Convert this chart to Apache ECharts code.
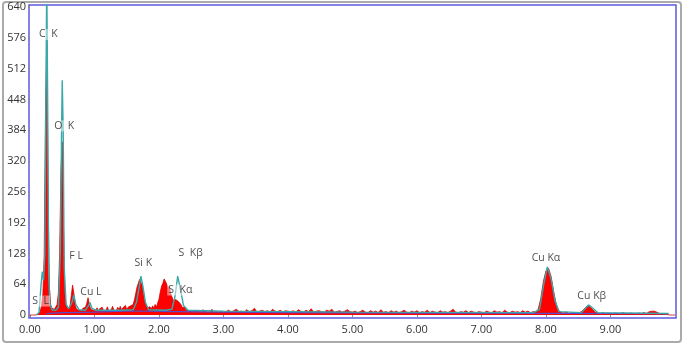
<!DOCTYPE html>
<html>
<head>
<meta charset="utf-8">
<script src="https://cdn.jsdelivr.net/npm/echarts@6/dist/echarts.min.js"></script>
<style>html,body{margin:0;padding:0;background:#fff}#c{width:685px;height:346px}</style>
</head>
<body>
<div id="c"></div>
<script>
// ---- data ----
var yTicks = [0, 64, 128, 192, 256, 320, 384, 448, 512, 576, 640];
var xTicks = [0, 1, 2, 3, 4, 5, 6, 7, 8, 9];
var xTickLabels = ['0.00','1.00','2.00','3.00','4.00','5.00','6.00','7.00','8.00','9.00'];

// measured spectrum (counts), channels of 0.02 keV from 0.00 to 3.00 keV
var lowStart = 0.0, lowStep = 0.02;
var spectrumLow = [
  0,0,0,0,0,0,1,3,8,20,
  45,120,420,565,260,60,22,14,10,12,
  16,22,45,130,300,360,180,45,20,14,
  12,18,40,62,45,22,12,15,10,13,
  9,14,11,16,24,36,22,12,15,10,
  12,9,15,8,13,10,16,9,12,10,
  17,9,13,11,18,10,14,9,16,11,
  18,10,15,12,20,11,16,13,19,15,
  22,32,45,58,66,74,70,62,45,30,
  20,15,11,17,12,19,14,22,16,25,
  33,48,60,66,75,70,64,55,60,45,
  38,30,26,32,35,28,30,22,16,12,
  16,10,13,9,12,8,11,7,10,8,
  12,7,9,6,11,8,7,10,6,9,
  7,12,6,8,7,10,6,8,7,9,
  6
];
// channels of 0.04 keV from 3.04 to 10.00 keV
var highStart = 3.04, highStep = 0.04;
var spectrumHigh = [
  7,10,6,9,12,7,8,6,11,7,9,14,6,8,10,7,9,6,12,8,7,10,6,9,8,
  7,9,6,11,8,6,10,7,13,6,8,9,7,6,10,8,12,6,7,9,6,8,11,7,6,
  8,5,7,10,6,5,9,6,8,5,11,6,7,5,9,6,8,5,7,10,6,5,8,6,9,
  5,7,6,10,5,8,6,5,9,6,7,5,8,12,6,5,7,6,9,5,8,6,5,7,6,
  5,8,6,5,9,6,7,5,10,6,5,8,6,7,5,9,6,8,5,7,6,12,35,70,92,
  97,80,48,22,9,5,4,6,3,5,4,3,5,8,14,19,17,12,6,4,3,5,3,4,3,
  3,4,2,3,5,2,3,4,2,3,4,3,5,3,7,8,8,6,3,2,2,1,0,0,0
];

// fitted curve [keV, counts]
var fitCurve = [
  [0.10,0],[0.14,5],[0.17,60],[0.19,90],[0.21,72],[0.23,130],[0.245,420],[0.26,700],[0.275,420],
  [0.29,80],[0.31,22],[0.34,11],[0.40,10],[0.44,16],[0.47,130],[0.49,390],[0.50,488],[0.515,380],
  [0.53,100],[0.56,22],[0.60,13],[0.65,26],[0.68,42],[0.71,22],[0.76,11],[0.86,10],[0.90,18],
  [0.93,26],[0.96,14],[1.02,10],[1.40,10],[1.60,11],[1.65,26],[1.69,56],[1.72,81],[1.75,60],
  [1.79,26],[1.84,11],[2.10,10],[2.20,12],[2.25,40],[2.29,81],[2.33,55],[2.38,20],[2.45,10],
  [3.00,8],[5.00,6],[7.80,5],[7.90,11],[7.96,60],[8.02,100],[8.08,75],[8.14,30],[8.20,7],
  [8.55,5],[8.60,12],[8.66,21],[8.72,15],[8.80,5],[9.90,3]
];

// background [keV, counts]
var backgroundCurve = [
  [0.25,2],[0.35,4],[0.60,5],[1.00,6],[1.50,8],[1.80,8],[2.30,7],[3.00,6],[4.00,5],
  [6.00,4],[8.00,3.5],[9.90,3]
];

// peak annotations [keV, counts, text]
var peakLabels = [
  [0.284, 583, 'C  K'],
  [0.53, 393, 'O  K'],
  [0.166, 29, 'S  L'],
  [0.715, 122, 'F L'],
  [0.945, 48, 'Cu L'],
  [1.757, 109, 'Si K'],
  [2.49, 128, 'S  K\u03b2'],
  [2.33, 52, 'S  K\u03b1'],
  [8.0, 118, 'Cu K\u03b1'],
  [8.71, 39, 'Cu K\u03b2']
];

// ---- build ----
var redData = [];
spectrumLow.forEach(function (v, i) { redData.push([+(lowStart + i * lowStep).toFixed(2), v]); });
spectrumHigh.forEach(function (v, i) { redData.push([+(highStart + i * highStep).toFixed(2), v]); });

var labelData = peakLabels.map(function (p) { return { value: [p[0], p[1]], name: p[2] }; });

var chart = echarts.init(document.getElementById('c'), null, { renderer: 'canvas' });
var font = 'Open Sans';
chart.setOption({
  animation: false,
  backgroundColor: '#fff',
  graphic: [{
    type: 'rect', shape: { x: 3, y: 2, width: 678, height: 340, r: 3 },
    style: { fill: 'none', stroke: '#aaaaaa', lineWidth: 2 }, z: -10, silent: true
  }],
  grid: { left: 29, right: 9, top: 5, bottom: 28, show: true, borderColor: '#5a5ae0', borderWidth: 1.5, backgroundColor: '#fff' },
  xAxis: {
    type: 'value', min: -0.0155, max: 10.016,
    axisLine: { show: false },
    splitLine: { show: false },
    axisTick: { show: true, customValues: xTicks, length: 3, lineStyle: { color: '#888' } },
    axisLabel: {
      customValues: xTicks, margin: 6, color: '#333', fontFamily: font, fontSize: 11,
      formatter: function (v) { var i = xTicks.indexOf(Math.round(v)); return i >= 0 ? xTickLabels[i] : ''; }
    }
  },
  yAxis: {
    type: 'value', min: -6.2, max: 644.2,
    axisLine: { show: false },
    splitLine: { show: false },
    axisTick: { show: true, customValues: yTicks, length: 2, lineStyle: { color: '#888' } },
    axisLabel: { customValues: yTicks, margin: 3, color: '#333', fontFamily: font, fontSize: 11 }
  },
  series: [
    {
      type: 'line', data: redData, symbol: 'none', silent: true,
      lineStyle: { color: '#d40000', width: 0.8 },
      areaStyle: { color: '#ff0000', opacity: 1 }, z: 2
    },
    {
      type: 'line', data: backgroundCurve, symbol: 'none', silent: true, smooth: true,
      lineStyle: { color: '#5a4cc8', width: 1.2 }, z: 3
    },
    {
      type: 'line', data: fitCurve, symbol: 'none', silent: true,
      lineStyle: { color: '#3aa8a8', width: 1.4 }, z: 4
    },
    {
      type: 'scatter', data: labelData, symbolSize: 1, silent: true,
      itemStyle: { color: 'rgba(0,0,0,0)' }, z: 6,
      label: {
        show: true, position: 'inside', formatter: '{b}', color: '#222', fontFamily: font, fontSize: 10.5,
        backgroundColor: 'rgba(255,255,255,0.6)', padding: [0, 1]
      }
    }
  ]
});
</script>
</body>
</html>
